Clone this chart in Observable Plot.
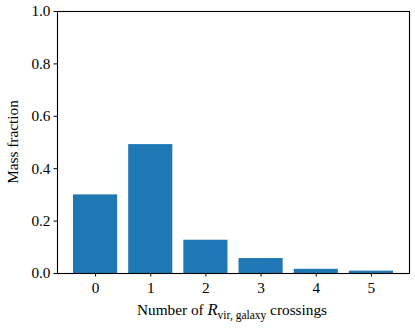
<!DOCTYPE html>
<html>
<head>
<meta charset="utf-8">
<script src="https://cdn.jsdelivr.net/npm/d3@7"></script>
<script src="https://cdn.jsdelivr.net/npm/@observablehq/plot@0.6"></script>
<style>
  html, body { margin: 0; padding: 0; background: white; }
  svg { display: block; }
</style>
</head>
<body>
<div id="chart"></div>
<script>
const crossings = [0, 1, 2, 3, 4, 5];
const massFraction = [0.300, 0.492, 0.127, 0.057, 0.016, 0.009];
const yTicks = [0, 0.2, 0.4, 0.6, 0.8, 1.0];
const xLabelParts = ["Number of ", "R", "vir, galaxy", " crossings"];
const yLabel = "Mass fraction";

const data = crossings.map((n, i) => ({n, frac: massFraction[i]}));
const FONT = "'Liberation Serif', 'DejaVu Serif', serif";
const FS = 15.3;

const plot = Plot.plot({
  width: 415,
  height: 328,
  marginLeft: 57,
  marginRight: 6,
  marginTop: 11,
  marginBottom: 55,
  style: {fontFamily: FONT, fontSize: FS + "px", background: "white", color: "black"},
  x: {domain: [-0.69, 5.69]},
  y: {domain: [0, 1]},
  marks: [
    Plot.rectY(data, {x1: d => d.n - 0.4, x2: d => d.n + 0.4, y: "frac", fill: "#1f77b4"}),
    Plot.frame({stroke: "black", strokeWidth: 1.1}),
    Plot.axisX({ticks: crossings, tickFormat: d3.format("d"), label: null, tickSize: 3.5, tickPadding: 5.5, fontSize: FS}),
    Plot.axisY({ticks: yTicks, tickFormat: d3.format(".1f"), label: null, tickSize: 3.5, tickPadding: 3.5, fontSize: FS})
  ]
});

document.getElementById("chart").appendChild(plot);

const svg = d3.select(plot);
const xl = svg.append("text")
  .attr("x", 232).attr("y", 315)
  .attr("text-anchor", "middle")
  .attr("font-family", FONT).attr("font-size", FS).attr("fill", "black");
xl.append("tspan").text(xLabelParts[0]);
xl.append("tspan").attr("font-style", "italic").attr("font-size", 16.5).text(xLabelParts[1]);
xl.append("tspan").attr("font-size", 11.5).attr("dy", 3.5).text(xLabelParts[2]);
xl.append("tspan").attr("dy", -3.5).text(xLabelParts[3]);

svg.append("text")
  .attr("transform", "translate(18,142) rotate(-90)")
  .attr("text-anchor", "middle")
  .attr("font-family", FONT).attr("font-size", FS).attr("fill", "black")
  .text(yLabel);
</script>
</body>
</html>
